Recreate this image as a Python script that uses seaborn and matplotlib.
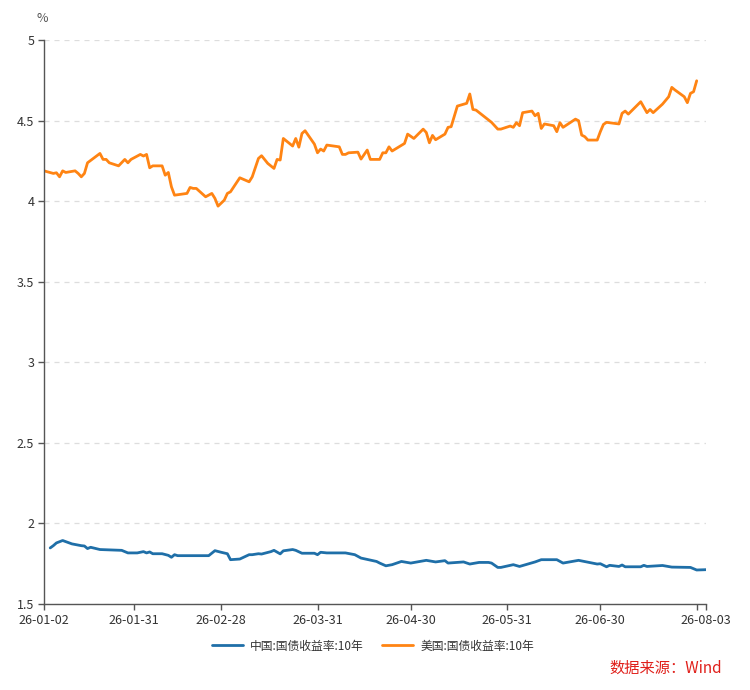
import matplotlib

matplotlib.use("Agg")
import matplotlib.pyplot as plt
import numpy as np
import pandas as pd
import seaborn as sns

START = "2026-01-02"

# China 10y yield: day offset from START, value (%)
CN_DAYS = [2, 3, 4, 6, 9, 12, 13, 14, 15, 18, 25, 27, 30, 32, 33, 34, 35, 38,
           40, 41, 42, 43, 53, 55, 57, 59, 60, 63, 66, 67, 69, 70, 73, 74, 76,
           77, 80, 81, 83, 87, 88, 89, 91, 97, 100, 102, 107, 108, 110, 112,
           115, 118, 123, 126, 129, 130, 135, 137, 140, 143, 144, 146, 147,
           151, 153, 158, 160, 165, 167, 172, 178, 179, 181, 182, 185, 186,
           187, 192, 193, 194, 199, 202, 208, 210, 213]
CN_VALUES = [1.848, 1.862, 1.879, 1.894, 1.873, 1.862, 1.860, 1.844, 1.852,
             1.838, 1.833, 1.817, 1.817, 1.825, 1.817, 1.823, 1.812, 1.812,
             1.802, 1.790, 1.806, 1.800, 1.800, 1.831, 1.821, 1.812, 1.775,
             1.779, 1.806, 1.806, 1.812, 1.810, 1.825, 1.833, 1.811, 1.830,
             1.838, 1.833, 1.815, 1.815, 1.806, 1.821, 1.817, 1.817, 1.806,
             1.785, 1.764, 1.754, 1.737, 1.744, 1.764, 1.754, 1.771, 1.761,
             1.769, 1.754, 1.761, 1.748, 1.758, 1.758, 1.754, 1.727, 1.727,
             1.744, 1.733, 1.761, 1.775, 1.775, 1.754, 1.771, 1.748, 1.750,
             1.731, 1.740, 1.733, 1.742, 1.731, 1.731, 1.740, 1.733, 1.739,
             1.729, 1.727, 1.711, 1.713]

# US 10y yield
US_DAYS = [0, 3, 4, 5, 6, 7, 10, 11, 12, 13, 14, 18, 19, 20, 21, 24, 26, 27,
           28, 31, 32, 33, 34, 35, 38, 39, 40, 41, 42, 46, 47, 48, 49, 52, 54,
           55, 56, 58, 59, 60, 63, 66, 67, 69, 70, 72, 74, 75, 76, 77, 80, 81,
           82, 83, 84, 87, 88, 89, 90, 91, 95, 96, 97, 98, 101, 102, 104, 105,
           108, 109, 110, 111, 112, 116, 117, 119, 122, 123, 124, 125, 126,
           129, 130, 131, 133, 136, 137, 138, 139, 144, 146, 147, 150, 151,
           152, 153, 154, 157, 158, 159, 160, 161, 164, 165, 166, 167, 171,
           172, 173, 174, 175, 178, 179, 180, 181, 185, 186, 187, 188, 192,
           194, 195, 196, 199, 201, 202, 203, 206, 207, 208, 209, 210]
US_VALUES = [4.188, 4.172, 4.176, 4.151, 4.188, 4.178, 4.188, 4.172, 4.151,
             4.172, 4.238, 4.296, 4.259, 4.259, 4.238, 4.219, 4.259, 4.238,
             4.259, 4.290, 4.280, 4.290, 4.207, 4.219, 4.219, 4.161, 4.178,
             4.089, 4.037, 4.048, 4.085, 4.079, 4.079, 4.027, 4.048, 4.017,
             3.969, 4.006, 4.048, 4.058, 4.145, 4.120, 4.151, 4.265, 4.282,
             4.234, 4.203, 4.259, 4.255, 4.389, 4.342, 4.389, 4.335, 4.420,
             4.437, 4.354, 4.300, 4.323, 4.311, 4.348, 4.337, 4.290, 4.290,
             4.300, 4.304, 4.261, 4.317, 4.259, 4.259, 4.300, 4.300, 4.337,
             4.311, 4.358, 4.416, 4.389, 4.447, 4.426, 4.362, 4.408, 4.381,
             4.416, 4.458, 4.462, 4.590, 4.607, 4.665, 4.569, 4.565, 4.489,
             4.447, 4.447, 4.466, 4.458, 4.487, 4.468, 4.549, 4.559, 4.530,
             4.545, 4.451, 4.479, 4.468, 4.431, 4.487, 4.458, 4.509, 4.499,
             4.410, 4.400, 4.379, 4.379, 4.431, 4.476, 4.489, 4.479, 4.545,
             4.559, 4.540, 4.617, 4.549, 4.569, 4.549, 4.602, 4.648, 4.706,
             4.690, 4.648, 4.611, 4.669, 4.679, 4.747]

SERIES = ["中国:国债收益率:10年", "美国:国债收益率:10年"]
COLORS = ["#1f6fa8", "#ff8413"]
TICK_DATES = ["2026-01-02", "2026-01-31", "2026-02-28", "2026-03-31",
              "2026-04-30", "2026-05-31", "2026-06-30", "2026-07-31",
              "2026-08-03"]
TICK_LABELS = ["26-01-02", "26-01-31", "26-02-28", "26-03-31", "26-04-30",
               "26-05-31", "26-06-30", "", "26-08-03"]
Y_TICKS = [1.5, 2, 2.5, 3, 3.5, 4, 4.5, 5]
Y_LABELS = ["1.5", "2", "2.5", "3", "3.5", "4", "4.5", "5"]

start = pd.Timestamp(START)
frames = []
for name, days, values in [(SERIES[0], CN_DAYS, CN_VALUES),
                           (SERIES[1], US_DAYS, US_VALUES)]:
    frames.append(pd.DataFrame({
        "date": start + pd.to_timedelta(days, unit="D"),
        "value": values,
        "series": name,
    }))
data = pd.concat(frames, ignore_index=True)

sns.set_theme(style="white")
plt.rcParams["font.family"] = ["Noto Sans CJK SC", "DejaVu Sans"]

figure = plt.figure(figsize=(7.5, 6.9), dpi=100)
axis = figure.add_axes([44 / 750, 1 - 604 / 690, 662 / 750, 564 / 690])
sns.lineplot(data=data, x="date", y="value", hue="series", hue_order=SERIES,
             palette=COLORS, linewidth=2.0, ax=axis, legend=True)

axis.set_xlim(pd.Timestamp("2026-01-02"), pd.Timestamp("2026-08-03"))
axis.set_ylim(1.5, 5)
axis.set_xticks(pd.to_datetime(TICK_DATES))
axis.set_xticklabels(TICK_LABELS, fontsize=9, color="#333333")
axis.set_yticks(Y_TICKS)
axis.set_yticklabels(Y_LABELS, fontsize=9, color="#333333")
axis.set_xlabel("")
axis.set_ylabel("")
axis.tick_params(axis="both", direction="out", length=4, width=1,
                 color="#555555", left=True, bottom=True, pad=3)
axis.grid(axis="y", linestyle=(0, (4, 4)), color="#dddddd", linewidth=0.9)
axis.grid(axis="x", visible=False)
for side in ("top", "right"):
    axis.spines[side].set_visible(False)
for side in ("left", "bottom"):
    axis.spines[side].set_color("#555555")
    axis.spines[side].set_linewidth(1.0)
axis.text(-0.002, 1 + 21 / 564, "%", transform=axis.transAxes, fontsize=9,
          color="#555555", ha="center", va="center")

axis.legend(loc="center", bbox_to_anchor=(373 / 750, 1 - 646 / 690),
            bbox_transform=figure.transFigure, ncol=2, frameon=False,
            fontsize=8.5, handlelength=2.6, columnspacing=1.6,
            handletextpad=0.6, title=None, labelcolor="#333333")
figure.text(666 / 750, 1 - 668 / 690, "数据来源：Wind", fontsize=11,
            color="#e0201b", ha="center", va="center")

figure.savefig("out.png", dpi=100)
plt.close(figure)
